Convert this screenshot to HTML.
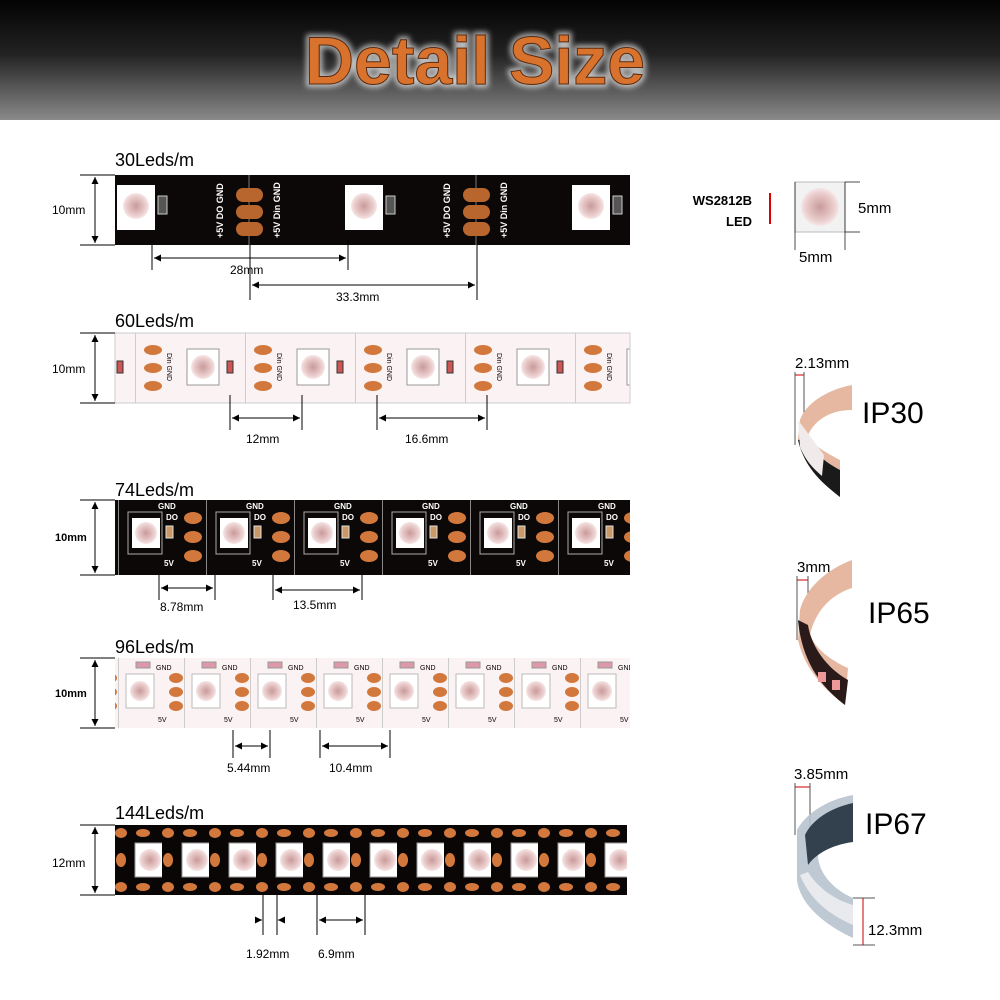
<!DOCTYPE html>
<html><head><meta charset="utf-8"><style>
html,body{margin:0;padding:0;background:#fff;}
svg{display:block;}
text{font-family:"Liberation Sans",sans-serif;}
</style></head><body>
<svg width="1000" height="1000" viewBox="0 0 1000 1000" xmlns="http://www.w3.org/2000/svg">
<defs>
<linearGradient id="hd" x1="0" y1="0" x2="0" y2="1">
<stop offset="0" stop-color="#030303"/><stop offset="0.45" stop-color="#222"/><stop offset="1" stop-color="#8a8a8a"/>
</linearGradient>
<filter id="glow" x="-10%" y="-30%" width="120%" height="160%">
<feGaussianBlur stdDeviation="3"/>
</filter>
<radialGradient id="led" cx="0.5" cy="0.5" r="0.5">
<stop offset="0" stop-color="#c99a9a"/><stop offset="0.7" stop-color="#e9caca"/><stop offset="1" stop-color="#f6e6e6"/>
</radialGradient>
<marker id="ar" viewBox="0 0 10 10" refX="10" refY="5" markerWidth="7" markerHeight="7" orient="auto-start-reverse"><path d="M0,0L10,5L0,10z" fill="#000"/></marker>
<pattern id="p60" x="135" y="333" width="110" height="70" patternUnits="userSpaceOnUse">
<rect width="110" height="70" fill="#fbf3f3"/>
<line x1="0.5" y1="0" x2="0.5" y2="70" stroke="#ccc"/>
<ellipse cx="18" cy="17" rx="9" ry="5" fill="#d2783c"/><ellipse cx="18" cy="35" rx="9" ry="5" fill="#d2783c"/><ellipse cx="18" cy="53" rx="9" ry="5" fill="#d2783c"/>
<rect x="52" y="16" width="32" height="36" fill="#fff" stroke="#999"/>
<circle cx="68" cy="34" r="12" fill="url(#led)"/>
<rect x="92" y="28" width="6" height="12" fill="#c55" stroke="#333"/>
<text x="32" y="20" font-size="7" font-family="Liberation Serif" transform="rotate(90 32 20)">Din GND</text>
</pattern>
<pattern id="p74" x="118" y="500" width="88" height="75" patternUnits="userSpaceOnUse">
<rect width="88" height="75" fill="#0c0808"/>
<line x1="0.5" y1="0" x2="0.5" y2="75" stroke="#888"/>
<rect x="10" y="12" width="34" height="42" fill="none" stroke="#aaa"/>
<rect x="14" y="18" width="28" height="30" fill="#fff"/>
<circle cx="28" cy="33" r="11" fill="url(#led)"/>
<rect x="48" y="26" width="7" height="12" fill="#c96" stroke="#ddd"/>
<text x="48" y="20" font-size="8" fill="#fff" font-family="Liberation Serif" font-weight="bold">DO</text>
<text x="40" y="9" font-size="8" fill="#fff" font-family="Liberation Serif" font-weight="bold">GND</text>
<text x="46" y="66" font-size="8" fill="#fff" font-family="Liberation Serif" font-weight="bold">5V</text>
<ellipse cx="75" cy="18" rx="9" ry="6" fill="#d2783c"/><ellipse cx="75" cy="37" rx="9" ry="6" fill="#d2783c"/><ellipse cx="75" cy="56" rx="9" ry="6" fill="#d2783c"/>
</pattern>
<pattern id="p96" x="118" y="658" width="66" height="70" patternUnits="userSpaceOnUse">
<rect width="66" height="70" fill="#fbf3f3"/>
<line x1="0.5" y1="0" x2="0.5" y2="70" stroke="#ccc"/>
<rect x="8" y="16" width="28" height="34" fill="#fff" stroke="#bbb"/>
<circle cx="22" cy="33" r="10" fill="url(#led)"/>
<rect x="18" y="4" width="14" height="6" fill="#d9a" stroke="#999"/>
<text x="38" y="12" font-size="7" font-family="Liberation Serif">GND</text>
<text x="40" y="64" font-size="7" font-family="Liberation Serif">5V</text>
<ellipse cx="58" cy="20" rx="7" ry="5" fill="#d2783c"/><ellipse cx="58" cy="34" rx="7" ry="5" fill="#d2783c"/><ellipse cx="58" cy="48" rx="7" ry="5" fill="#d2783c"/>
</pattern>
<pattern id="p144" x="115" y="825" width="47" height="70" patternUnits="userSpaceOnUse">
<rect width="47" height="70" fill="#0a0606"/>
<ellipse cx="6" cy="8" rx="6" ry="5" fill="#d2783c"/><ellipse cx="6" cy="62" rx="6" ry="5" fill="#d2783c"/>
<ellipse cx="6" cy="35" rx="5" ry="7" fill="#d2783c"/>
<rect x="20" y="18" width="30" height="34" fill="#fff" stroke="#999"/>
<circle cx="35" cy="35" r="11" fill="url(#led)"/>
<ellipse cx="28" cy="8" rx="7" ry="4" fill="#d2783c"/><ellipse cx="28" cy="62" rx="7" ry="4" fill="#d2783c"/>
</pattern>
</defs>

<!-- header -->
<rect x="0" y="0" width="1000" height="120" fill="url(#hd)"/>
<text x="475" y="84" text-anchor="middle" font-size="68" font-weight="bold" fill="none" stroke="#fff" stroke-width="6" opacity="0.7" filter="url(#glow)">Detail Size</text>
<text x="475" y="84" text-anchor="middle" font-size="68" font-weight="bold" fill="#d8722c" stroke="#5a2a10" stroke-width="1">Detail Size</text>

<!-- Strip 1: 30 leds -->
<text x="115" y="166" font-size="18">30Leds/m</text>
<rect x="115" y="175" width="515" height="70" fill="#0c0808"/>
<line x1="249" y1="175" x2="249" y2="245" stroke="#777"/>
<line x1="476" y1="175" x2="476" y2="245" stroke="#777"/>
<rect x="117" y="185" width="38" height="45" fill="#fff"/><circle cx="136" cy="206" r="13" fill="url(#led)"/>
<rect x="345" y="185" width="38" height="45" fill="#fff"/><circle cx="364" cy="206" r="13" fill="url(#led)"/>
<rect x="572" y="185" width="38" height="45" fill="#fff"/><circle cx="591" cy="206" r="13" fill="url(#led)"/>
<rect x="158" y="196" width="9" height="18" fill="#555" stroke="#ccc"/><rect x="386" y="196" width="9" height="18" fill="#555" stroke="#ccc"/><rect x="613" y="196" width="9" height="18" fill="#555" stroke="#ccc"/>
<g fill="#b8662e">
<rect x="236" y="188" width="27" height="14" rx="7"/><rect x="236" y="205" width="27" height="14" rx="7"/><rect x="236" y="222" width="27" height="14" rx="7"/>
<rect x="463" y="188" width="27" height="14" rx="7"/><rect x="463" y="205" width="27" height="14" rx="7"/><rect x="463" y="222" width="27" height="14" rx="7"/>
</g>
<g font-size="9" fill="#fff" font-family="Liberation Serif" font-weight="bold">
<text transform="translate(223,238) rotate(-90)">+5V  DO  GND</text>
<text transform="translate(280,238) rotate(-90)">+5V Din GND</text>
<text transform="translate(450,238) rotate(-90)">+5V  DO  GND</text>
<text transform="translate(507,238) rotate(-90)">+5V Din GND</text>
</g>
<line x1="80" y1="175" x2="115" y2="175" stroke="#000"/><line x1="80" y1="245" x2="115" y2="245" stroke="#000"/>
<line x1="95" y1="177" x2="95" y2="243" stroke="#000" marker-start="url(#ar)" marker-end="url(#ar)"/>
<text x="52" y="214" font-size="12">10mm</text>
<line x1="152" y1="240" x2="152" y2="270" stroke="#000"/><line x1="348" y1="240" x2="348" y2="270" stroke="#000"/>
<line x1="154" y1="258" x2="346" y2="258" stroke="#000" marker-start="url(#ar)" marker-end="url(#ar)"/>
<text x="230" y="274" font-size="12">28mm</text>
<line x1="250" y1="245" x2="250" y2="300" stroke="#000"/><line x1="477" y1="245" x2="477" y2="300" stroke="#000"/>
<line x1="252" y1="285" x2="475" y2="285" stroke="#000" marker-start="url(#ar)" marker-end="url(#ar)"/>
<text x="336" y="301" font-size="12">33.3mm</text>

<!-- WS2812B -->
<text x="752" y="205" font-size="13" font-weight="bold" text-anchor="end">WS2812B</text>
<text x="752" y="226" font-size="13" font-weight="bold" text-anchor="end">LED</text>
<line x1="770" y1="193" x2="770" y2="224" stroke="#d00" stroke-width="2"/>
<rect x="795" y="182" width="50" height="50" fill="#f2f2f2" stroke="#bbb"/>
<circle cx="820" cy="207" r="19" fill="url(#led)"/>
<line x1="795" y1="182" x2="795" y2="250" stroke="#000" stroke-width="0.7"/><line x1="845" y1="182" x2="845" y2="250" stroke="#000" stroke-width="0.7"/>
<line x1="845" y1="182" x2="860" y2="182" stroke="#000" stroke-width="0.7"/><line x1="845" y1="232" x2="860" y2="232" stroke="#000" stroke-width="0.7"/>
<text x="858" y="213" font-size="15">5mm</text>
<text x="799" y="262" font-size="15">5mm</text>

<!-- Strip 2: 60 -->
<text x="115" y="327" font-size="18">60Leds/m</text>
<rect x="115" y="333" width="515" height="70" fill="url(#p60)" stroke="#ccc"/>
<line x1="80" y1="333" x2="115" y2="333" stroke="#000"/><line x1="80" y1="403" x2="115" y2="403" stroke="#000"/>
<line x1="95" y1="335" x2="95" y2="401" stroke="#000" marker-start="url(#ar)" marker-end="url(#ar)"/>
<text x="52" y="373" font-size="12">10mm</text>
<line x1="230" y1="395" x2="230" y2="430" stroke="#000"/><line x1="302" y1="395" x2="302" y2="430" stroke="#000"/>
<line x1="232" y1="418" x2="300" y2="418" stroke="#000" marker-start="url(#ar)" marker-end="url(#ar)"/>
<text x="246" y="443" font-size="12">12mm</text>
<line x1="377" y1="395" x2="377" y2="430" stroke="#000"/><line x1="487" y1="395" x2="487" y2="430" stroke="#000"/>
<line x1="379" y1="418" x2="485" y2="418" stroke="#000" marker-start="url(#ar)" marker-end="url(#ar)"/>
<text x="405" y="443" font-size="12">16.6mm</text>

<!-- Strip 3: 74 -->
<text x="115" y="496" font-size="18">74Leds/m</text>
<rect x="115" y="500" width="515" height="75" fill="url(#p74)"/>
<line x1="80" y1="500" x2="115" y2="500" stroke="#000"/><line x1="80" y1="575" x2="115" y2="575" stroke="#000"/>
<line x1="95" y1="502" x2="95" y2="573" stroke="#000" marker-start="url(#ar)" marker-end="url(#ar)"/>
<text x="55" y="541" font-size="11" font-weight="bold">10mm</text>
<line x1="159" y1="575" x2="159" y2="600" stroke="#000"/><line x1="215" y1="575" x2="215" y2="600" stroke="#000"/>
<line x1="161" y1="588" x2="213" y2="588" stroke="#000" marker-start="url(#ar)" marker-end="url(#ar)"/>
<text x="160" y="611" font-size="12">8.78mm</text>
<line x1="273" y1="575" x2="273" y2="600" stroke="#000"/><line x1="362" y1="575" x2="362" y2="600" stroke="#000"/>
<line x1="275" y1="590" x2="360" y2="590" stroke="#000" marker-start="url(#ar)" marker-end="url(#ar)"/>
<text x="293" y="609" font-size="12">13.5mm</text>

<!-- Strip 4: 96 -->
<text x="115" y="653" font-size="18">96Leds/m</text>
<rect x="115" y="658" width="515" height="70" fill="url(#p96)"/>
<line x1="80" y1="658" x2="115" y2="658" stroke="#000"/><line x1="80" y1="728" x2="115" y2="728" stroke="#000"/>
<line x1="95" y1="660" x2="95" y2="726" stroke="#000" marker-start="url(#ar)" marker-end="url(#ar)"/>
<text x="55" y="697" font-size="11" font-weight="bold">10mm</text>
<line x1="233" y1="730" x2="233" y2="758" stroke="#000"/><line x1="270" y1="730" x2="270" y2="758" stroke="#000"/>
<line x1="235" y1="746" x2="268" y2="746" stroke="#000" marker-start="url(#ar)" marker-end="url(#ar)"/>
<text x="227" y="772" font-size="12">5.44mm</text>
<line x1="320" y1="730" x2="320" y2="758" stroke="#000"/><line x1="390" y1="730" x2="390" y2="758" stroke="#000"/>
<line x1="322" y1="746" x2="388" y2="746" stroke="#000" marker-start="url(#ar)" marker-end="url(#ar)"/>
<text x="329" y="772" font-size="12">10.4mm</text>

<!-- Strip 5: 144 -->
<text x="115" y="819" font-size="18">144Leds/m</text>
<rect x="115" y="825" width="512" height="70" fill="url(#p144)"/>
<line x1="80" y1="825" x2="115" y2="825" stroke="#000"/><line x1="80" y1="895" x2="115" y2="895" stroke="#000"/>
<line x1="95" y1="827" x2="95" y2="893" stroke="#000" marker-start="url(#ar)" marker-end="url(#ar)"/>
<text x="52" y="867" font-size="12">12mm</text>
<line x1="263" y1="895" x2="263" y2="935" stroke="#000"/><line x1="277" y1="895" x2="277" y2="935" stroke="#000"/>
<line x1="255" y1="920" x2="262" y2="920" stroke="#000" marker-end="url(#ar)"/><line x1="285" y1="920" x2="278" y2="920" stroke="#000" marker-end="url(#ar)"/>
<text x="246" y="958" font-size="12">1.92mm</text>
<line x1="317" y1="895" x2="317" y2="935" stroke="#000"/><line x1="365" y1="895" x2="365" y2="935" stroke="#000"/>
<line x1="319" y1="920" x2="363" y2="920" stroke="#000" marker-start="url(#ar)" marker-end="url(#ar)"/>
<text x="318" y="958" font-size="12">6.9mm</text>

<!-- IP30 -->
<text x="795" y="368" font-size="15">2.13mm</text>
<line x1="795" y1="372" x2="795" y2="445" stroke="#555"/><line x1="804" y1="372" x2="804" y2="420" stroke="#555"/>
<line x1="795" y1="375" x2="804" y2="375" stroke="#c00"/>
<path d="M852,385 C825,390 805,405 800,420 L798,440 C805,470 825,485 840,497 L840,460 C825,452 812,445 808,435 C815,420 830,410 852,410 Z" fill="#e6b8a2"/>
<path d="M798,440 C805,470 825,485 840,497 L840,470 C825,462 812,452 808,438 Z" fill="#1a1a1a"/>
<path d="M798,420 L800,447 C806,462 815,470 822,476 L824,455 Z" fill="#f0eaea"/>
<text x="862" y="423" font-size="30">IP30</text>

<!-- IP65 -->
<text x="797" y="572" font-size="15">3mm</text>
<line x1="797" y1="576" x2="797" y2="640" stroke="#555"/><line x1="808" y1="576" x2="808" y2="625" stroke="#555"/>
<line x1="797" y1="580" x2="808" y2="580" stroke="#c00"/>
<path d="M852,560 C825,570 805,590 800,610 L798,640 C805,670 825,690 845,705 L848,668 C830,660 815,648 810,635 C815,612 830,595 852,588 Z" fill="#e6b8a2"/>
<path d="M798,620 C802,665 825,690 845,705 L848,680 C830,670 812,650 808,625 Z" fill="#2a1a1a"/>
<rect x="818" y="672" width="8" height="10" fill="#e99"/><rect x="832" y="680" width="8" height="10" fill="#e99"/>
<text x="868" y="623" font-size="30">IP65</text>

<!-- IP67 -->
<text x="794" y="779" font-size="15">3.85mm</text>
<line x1="795" y1="783" x2="795" y2="835" stroke="#555"/><line x1="810" y1="783" x2="810" y2="830" stroke="#555"/>
<line x1="795" y1="787" x2="810" y2="787" stroke="#c00"/>
<path d="M853,795 C825,800 805,815 797,830 L797,880 C800,905 825,925 853,938 L853,898 C830,888 818,870 818,855 C820,840 835,830 853,828 Z" fill="#b7c3cf" opacity="0.9"/>
<path d="M853,803 C830,808 812,820 805,835 L808,865 C815,855 830,845 853,842 Z" fill="#33414f"/>
<path d="M800,875 C810,900 830,915 853,925 L853,905 C835,900 818,888 808,872 Z" fill="#e8eaee"/>
<line x1="853" y1="898" x2="875" y2="898" stroke="#555"/><line x1="853" y1="945" x2="875" y2="945" stroke="#555"/>
<line x1="863" y1="898" x2="863" y2="945" stroke="#c00"/>
<text x="868" y="935" font-size="15">12.3mm</text>
<text x="865" y="834" font-size="30">IP67</text>
</svg>
</body></html>
